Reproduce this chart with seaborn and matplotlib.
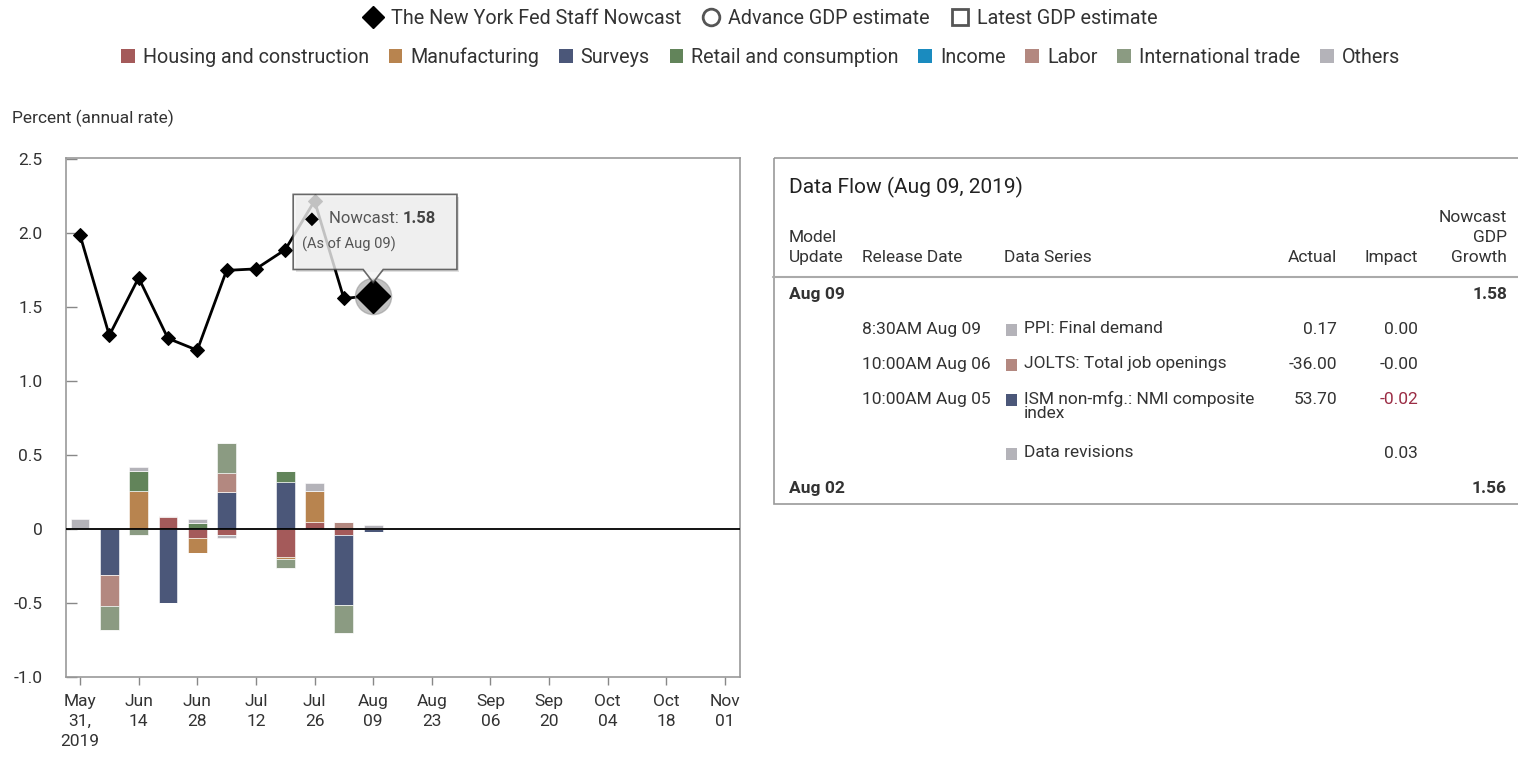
import matplotlib
matplotlib.use("Agg")
import matplotlib.pyplot as plt
import matplotlib.dates as mdates
from matplotlib.lines import Line2D
from matplotlib.patches import Patch, Polygon, Rectangle
import numpy as np
import pandas as pd
import seaborn as sns

# ---- data -------------------------------------------------------------
week_dates = pd.to_datetime([
    "2019-05-31", "2019-06-07", "2019-06-14", "2019-06-21", "2019-06-28",
    "2019-07-05", "2019-07-12", "2019-07-19", "2019-07-26", "2019-08-02",
    "2019-08-09",
])
nowcast = [1.99, 1.31, 1.70, 1.29, 1.21, 1.75, 1.76, 1.89, 2.22, 1.56, 1.58]

categories = [
    "Housing and construction", "Manufacturing", "Surveys",
    "Retail and consumption", "Income", "Labor", "International trade",
    "Others",
]
category_colors = [
    "#A45A5A", "#B8844F", "#4B5779", "#62845A",
    "#1A8BBF", "#B38880", "#8B9B82", "#B4B3B9",
]
housing = [0, 0, 0, 0.08, -0.06, -0.04, 0, -0.19, 0.05, -0.04, 0]
manufacturing = [0, 0, 0.26, 0, -0.10, 0, 0, -0.01, 0.21, 0, 0]
surveys = [0, -0.31, 0, -0.50, 0, 0.25, 0, 0.32, 0, -0.47, -0.02]
retail = [0, 0, 0.13, 0, 0.04, 0, 0, 0.07, 0, 0, 0]
income = [0, 0, 0, 0, 0, 0, 0, 0, 0, 0, 0]
labor = [0, -0.21, 0, 0.01, 0, 0.13, 0, 0, 0, 0.05, 0]
trade = [0, -0.16, -0.04, 0, 0, 0.20, 0, -0.06, 0, -0.19, 0]
others = [0.07, 0, 0.03, 0, 0.03, -0.02, 0.01, 0, 0.05, 0, 0.03]

tick_dates = pd.date_range("2019-05-31", "2019-11-01", freq="14D")
tick_labels = [
    "May\n31,\n2019", "Jun\n14", "Jun\n28", "Jul\n12", "Jul\n26", "Aug\n09",
    "Aug\n23", "Sep\n06", "Sep\n20", "Oct\n04", "Oct\n18", "Nov\n01",
]
y_ticks = [-1.0, -0.5, 0.0, 0.5, 1.0, 1.5, 2.0, 2.5]
y_tick_labels = ["-1.0", "-0.5", "0", "0.5", "1.0", "1.5", "2.0", "2.5"]

table_title = "Data Flow (Aug 09, 2019)"
release_times = ["8:30AM Aug 09", "10:00AM Aug 06", "10:00AM Aug 05", ""]
series_names = [
    "PPI: Final demand", "JOLTS: Total job openings",
    "ISM non-mfg.: NMI composite\nindex", "Data revisions",
]
series_cats = ["Others", "Labor", "Surveys", "Others"]
actual_values = ["0.17", "-36.00", "53.70", ""]
impact_values = ["0.00", "-0.00", "-0.02", "0.03"]
model_updates = ["Aug 09", "Aug 02"]
update_nowcasts = ["1.58", "1.56"]

# ---- style ------------------------------------------------------------
sns.set_theme(style="white")
plt.rcParams["font.family"] = ["Roboto", "DejaVu Sans"]
TXT = "#333333"
W, H = 1518, 764

fig = plt.figure(figsize=(W / 100, H / 100), dpi=100)
ax = fig.add_axes([66 / W, 1 - 677 / H, (740 - 66) / W, (677 - 158) / H])

# stacked contributions, positive up and negative down
contrib = dict(zip(categories, [housing, manufacturing, surveys, retail,
                                income, labor, trade, others]))
pos_bottom = np.zeros(len(week_dates))
neg_bottom = np.zeros(len(week_dates))
for cat, color in zip(categories, category_colors):
    vals = np.array(contrib[cat], dtype=float)
    pos = np.where(vals > 0, vals, 0)
    neg = np.where(vals < 0, vals, 0)
    ax.bar(week_dates, pos, width=4.5, bottom=pos_bottom, color=color,
           edgecolor="white", linewidth=0.4, zorder=2)
    ax.bar(week_dates, neg, width=4.5, bottom=neg_bottom, color=color,
           edgecolor="white", linewidth=0.4, zorder=2)
    pos_bottom += pos
    neg_bottom += neg

ax.axhline(0, color="black", lw=1.3, zorder=3)

sns.lineplot(x=week_dates, y=nowcast, ax=ax, color="black", lw=2,
             marker="D", markersize=7, markeredgecolor="black", zorder=4)

# highlighted latest point
last_x = mdates.date2num(week_dates[-1])
last_v = nowcast[-1]
ax.plot([last_x], [last_v], "o", ms=26, color="#999999", alpha=0.6, zorder=5)
ax.plot([last_x], [last_v], "D", ms=17, color="black", zorder=5)

# tooltip
left, right = last_x - 19.1, last_x + 20.0
top, bot = 2.264, 1.756
tip = 1.668
shadow = Polygon([(left + 0.6, top - 0.02), (right + 0.6, top - 0.02),
                  (right + 0.6, bot - 0.02), (left + 0.6, bot - 0.02)],
                 closed=True, fc="#000000", alpha=0.12, ec="none", zorder=6)
ax.add_patch(shadow)
box = Polygon([(left, top), (right, top), (right, bot), (last_x + 2.4, bot),
               (last_x, tip), (last_x - 2.4, bot), (left, bot)],
              closed=True, fc="#f3f3f3", alpha=0.8, ec="#444444", lw=1.2,
              zorder=7)
ax.add_patch(box)
ax.text(last_x - 14.6, 2.10, "\u25c6", ha="center", va="center", fontsize=13,
        color="black", family=["DejaVu Sans"], zorder=8)
t1 = ax.text(last_x - 10.6, 2.10, "Nowcast: ", ha="left", va="center",
             fontsize=12, color="#555555", zorder=8)
ax.annotate(f"{last_v:.2f}", xy=(1, 0.5), xycoords=t1, ha="left",
            va="center", fontsize=12, fontweight="bold", color="#444444",
            zorder=8)
ax.text(last_x - 16.9, 1.925, "(As of Aug 09)", ha="left", va="center",
        fontsize=10.5, color="#555555", zorder=8)

# axes formatting
ax.set_xlim(mdates.date2num(pd.Timestamp("2019-05-27")) + 0.66,
            mdates.date2num(pd.Timestamp("2019-11-04")) + 0.58)
ax.set_ylim(-1.0, 2.51)
ax.set_xticks(tick_dates)
ax.set_xticklabels(tick_labels, fontsize=12.5, color=TXT, linespacing=1.45)
ax.set_yticks(y_ticks)
ax.set_yticklabels(y_tick_labels, fontsize=12.5, color=TXT)
ax.tick_params(axis="x", direction="out", length=6, width=1, color="#888888",
               pad=6, bottom=True)
ax.tick_params(axis="y", direction="in", length=8, width=1, color="#888888",
               pad=17, left=True)
for sp in ax.spines.values():
    sp.set_color("#999999")
    sp.set_linewidth(1.2)
ax.set_xlabel("")
ax.set_ylabel("")

fig.text(12 / W, 1 - 118 / H, "Percent (annual rate)", fontsize=12.5,
         color=TXT, va="center", ha="left")

# legends
top_handles = [
    Line2D([], [], marker="D", color="black", ls="", ms=11),
    Line2D([], [], marker="o", mfc="none", mec="#555555", mew=2, ls="", ms=12),
    Line2D([], [], marker="s", mfc="none", mec="#555555", mew=2, ls="", ms=12),
]
leg1 = fig.legend(top_handles, ["The New York Fed Staff Nowcast",
                                "Advance GDP estimate", "Latest GDP estimate"],
                  loc="center", bbox_to_anchor=(0.501, 1 - 18 / H), ncol=3,
                  frameon=False, fontsize=14.2, handlelength=1.0,
                  handletextpad=0.4, columnspacing=1.0)
for t in leg1.get_texts():
    t.set_color(TXT)
cat_handles = [Patch(facecolor=c, edgecolor="none") for c in category_colors]
leg2 = fig.legend(cat_handles, categories, loc="center",
                  bbox_to_anchor=(0.501, 1 - 57 / H), ncol=len(categories),
                  frameon=False, fontsize=14.2, handlelength=0.7,
                  handleheight=0.7, handletextpad=0.4, columnspacing=1.0)
for t in leg2.get_texts():
    t.set_color(TXT)

# ---- data flow table ------------------------------------------------
tx = fig.add_axes([773 / W, 1 - 505 / H, (W - 773) / W, (505 - 157) / H])
tx.set_xlim(773, W)
tx.set_ylim(505, 157)
tx.axis("off")
tx.add_patch(Rectangle((774, 158), 760, 346, fill=False, ec="#9a9a9a",
                       lw=1.2, clip_on=False))
tx.plot([773, W], [277, 277], color="#aaaaaa", lw=1.5, clip_on=False)

tx.text(789, 187, table_title, fontsize=15, color="#222222", va="center")
hdr = dict(fontsize=12.5, color=TXT, va="center")
tx.text(789, 238, "Model", **hdr)
tx.text(789, 258, "Update", **hdr)
tx.text(862, 258, "Release Date", **hdr)
tx.text(1004, 258, "Data Series", **hdr)
tx.text(1337, 258, "Actual", ha="right", **hdr)
tx.text(1418, 258, "Impact", ha="right", **hdr)
tx.text(1507, 217, "Nowcast", ha="right", **hdr)
tx.text(1507, 238, "GDP", ha="right", **hdr)
tx.text(1507, 258, "Growth", ha="right", **hdr)

bold = dict(fontsize=12.5, color=TXT, va="center", fontweight="bold")
row_y = [330, 365, 400, 454]
tx.text(789, 295, model_updates[0], **bold)
tx.text(1507, 295, update_nowcasts[0], ha="right", **bold)
tx.text(789, 489, model_updates[1], **bold)
tx.text(1507, 489, update_nowcasts[1], ha="right", **bold)

color_of = dict(zip(categories, category_colors))
body = dict(fontsize=12.5, color=TXT)
for y, rt, name, cat, act, imp in zip(row_y, release_times, series_names,
                                      series_cats, actual_values,
                                      impact_values):
    tx.text(862, y, rt, va="center", **body)
    tx.add_patch(Rectangle((1006, y - 6), 11, 12, fc=color_of[cat], ec="none"))
    tx.text(1024, y - 9, name, va="top", linespacing=0.95, **body)
    tx.text(1337, y, act, va="center", ha="right", **body)
    imp_color = "#9b2d45" if float(imp) <= -0.01 else TXT
    tx.text(1418, y, imp, va="center", ha="right", fontsize=12.5,
            color=imp_color)

fig.savefig("out.png", dpi=100)
